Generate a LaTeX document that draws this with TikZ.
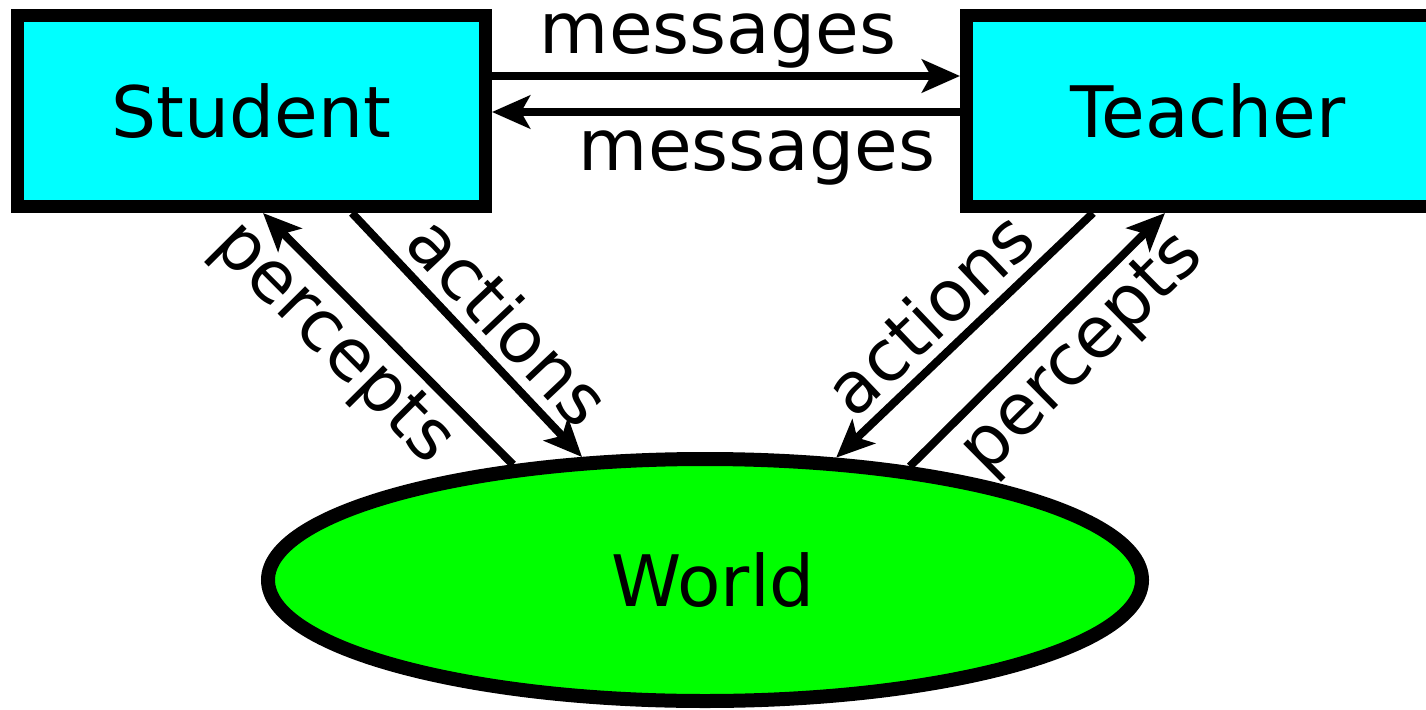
\documentclass[tikz,border=0pt]{standalone}
\usepackage{fontspec}
\setmainfont{DejaVu Sans}
\usetikzlibrary{arrows.meta,shapes.geometric}
\definecolor{boxcyan}{RGB}{0,255,255}
\definecolor{worldgreen}{RGB}{0,255,0}
\begin{document}
\begin{tikzpicture}[x=1pt,y=-1pt,
  every node/.style={font=\fontsize{71pt}{85pt}\selectfont},
  agent/.style={draw, line width=13pt, fill=boxcyan, rectangle, inner sep=0pt, minimum height=191pt},
  env/.style={draw, line width=14pt, fill=worldgreen, ellipse, inner sep=0pt, minimum width=874pt, minimum height=242pt},
  flow/.style={line width=8pt, -{Stealth[length=38pt,width=33pt,inset=9pt]}},
  lbl/.style={sloped, anchor=base, inner sep=0pt}]
\useasboundingbox (0,0) rectangle (1426,709);
\clip (0,0) rectangle (1426,709);

% agents and environment
\node[agent, minimum width=468pt] (student) at (251.5,111) {Student};
\node[agent, minimum width=483pt] (teacher) at (1208,111) {Teacher};
\node[env] (world) at (705,580) {\hspace*{16pt}World};

% message exchange between the agents
\draw[flow] ([yshift=35pt]student.east) -- node[lbl, xshift=-8pt, yshift=23pt] {messages} ([yshift=35pt]teacher.west);
\draw[flow] ([yshift=-1pt]teacher.west) -- node[lbl, xshift=31pt, yshift=-58pt] {messages} ([yshift=-1pt]student.east);

% interaction with the world
\draw[flow] (world.149) -- node[lbl, pos=0.60, yshift=-61pt] {percepts} ([xshift=11.5pt]student.south);
\draw[flow] ([xshift=100.5pt]student.south) -- node[lbl, pos=0.555, yshift=14pt] {actions} (world.135);
\draw[flow] ([xshift=-115pt]teacher.south) -- node[lbl, pos=0.53, yshift=14pt] {actions} (world.43);
\draw[flow] (world.29) -- node[lbl, pos=0.56, yshift=-61pt] {percepts} ([xshift=-43pt]teacher.south);
\end{tikzpicture}
\end{document}
